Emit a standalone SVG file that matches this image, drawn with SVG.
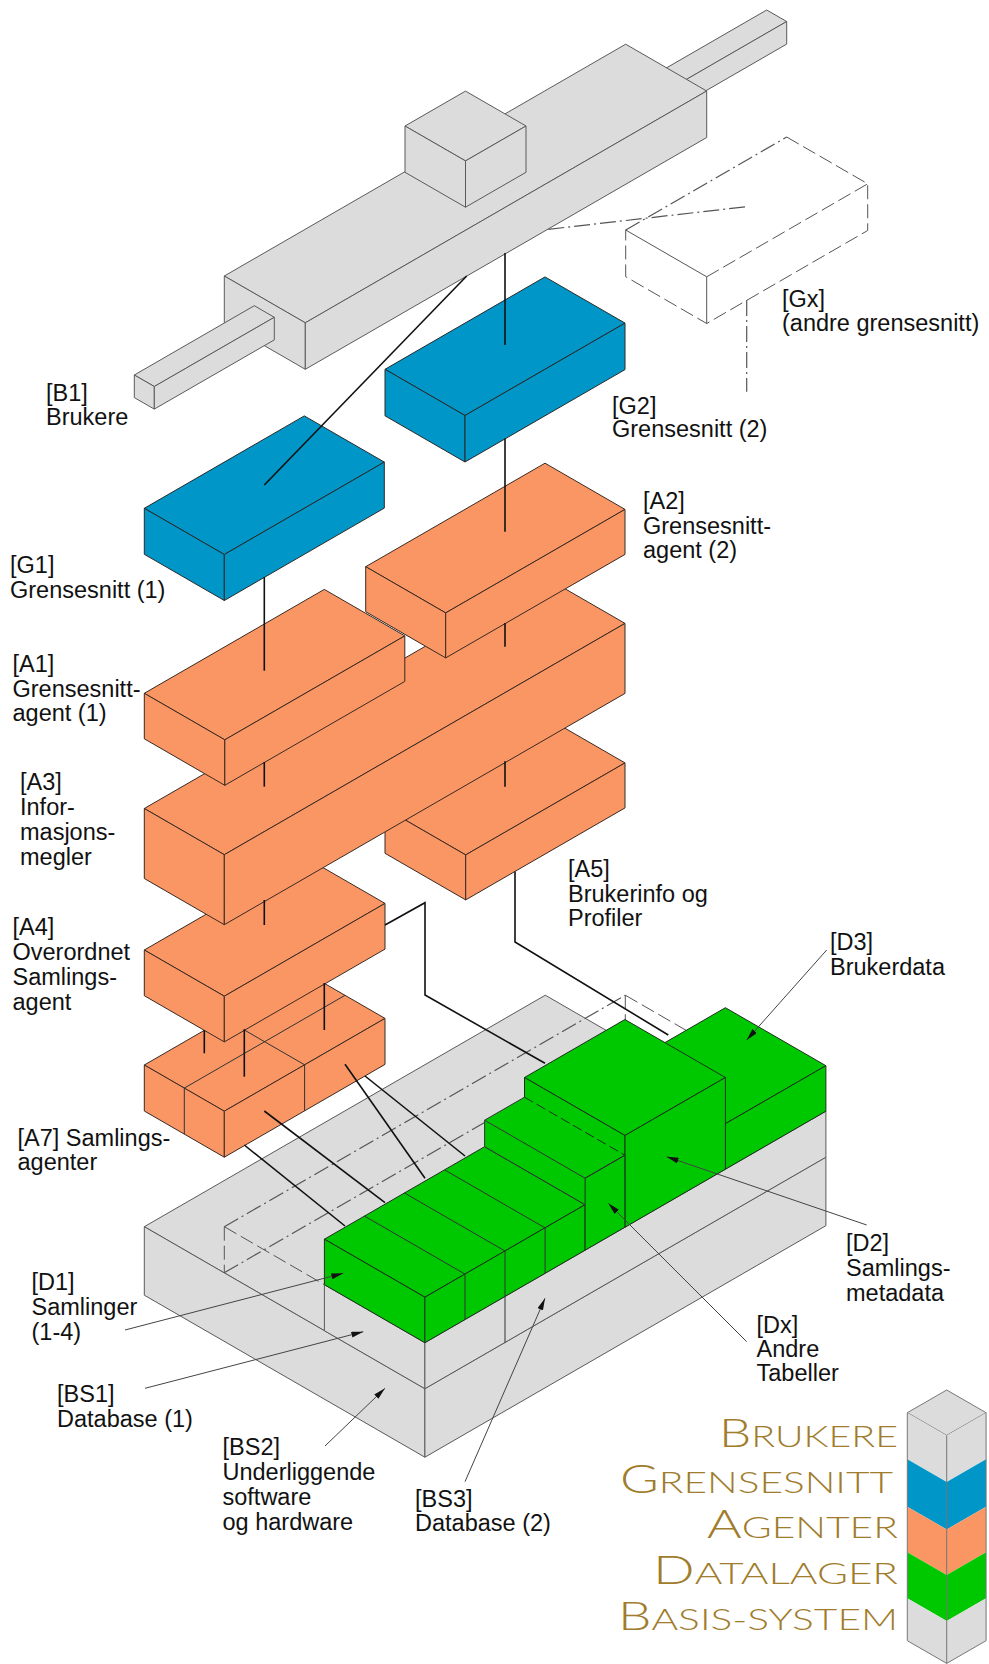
<svg xmlns="http://www.w3.org/2000/svg" width="989" height="1664" viewBox="0 0 989 1664">
<defs>
<style>
.gy{fill:#dcdcdc;stroke:#5a5a5a;stroke-width:1;stroke-linejoin:round}
.bl{fill:#0096c8;stroke:#2a2a2a;stroke-width:1;stroke-linejoin:round}
.or{fill:#fa9664;stroke:#3a2a22;stroke-width:1;stroke-linejoin:round}
.gr{fill:#00c800;stroke:#1f2f1f;stroke-width:1;stroke-linejoin:round}
.grf{fill:#00c800;stroke:none}
.ln{fill:none;stroke:#333;stroke-width:1}
.lnd{fill:none;stroke:#1f2f1f;stroke-width:1;stroke-dasharray:10 4}
.lnw{fill:none;stroke:#555;stroke-width:1}
.cn{fill:none;stroke:#111;stroke-width:1.6}
.ptr{fill:none;stroke:#444;stroke-width:1;marker-end:url(#ah)}
.dash{fill:none;stroke:#555;stroke-width:1;stroke-dasharray:14 5}
.dd{fill:none;stroke:#555;stroke-width:1.2;stroke-dasharray:16 4 2 4}
.lbl{font-family:"Liberation Sans",Arial,sans-serif;font-size:23.5px;fill:#111}
.lg{font-family:Lato,"Open Sans",sans-serif;font-weight:300;fill:#a07c2c}
.lgf{stroke:#777;stroke-width:1;stroke-linejoin:round}
</style>
<marker id="ah" viewBox="0 0 12 6" refX="12" refY="3" markerWidth="12" markerHeight="6" orient="auto" markerUnits="userSpaceOnUse">
<path d="M0,0 L12,3 L0,6 z" fill="#111"/>
</marker>
</defs>
<rect width="989" height="1664" fill="#fff"/>

<g id="B1">
<polygon class="gy" points="646.7,79.3 766.7,10 786.7,21.5 666.7,90.8"/>
<polygon class="gy" points="666.7,90.8 786.7,21.5 786.7,44.1 666.7,113.4"/>
<polygon class="gy" points="224.3,276 625.7,44.2 706.7,91 305.3,322.8"/>
<polygon class="gy" points="224.3,276 305.3,322.8 305.3,369.3 224.3,322.5"/>
<polygon class="gy" points="305.3,322.8 706.7,91 706.7,137.5 305.3,369.3"/>
<polygon class="gy" points="405,126 465.5,91.1 526,126 465.5,160.9"/>
<polygon class="gy" points="405,126 465.5,160.9 465.5,207.2 405,172.3"/>
<polygon class="gy" points="465.5,160.9 526,126 526,172.3 465.5,207.2"/>
<polygon class="gy" points="134.3,375 254.3,305.7 274.3,317.3 154.3,386.5"/>
<polygon class="gy" points="134.3,375 154.3,386.5 154.3,409.1 134.3,397.6"/>
<polygon class="gy" points="154.3,386.5 274.3,317.3 274.3,339.9 154.3,409.1"/>
</g>

<g id="Gx">
<path class="lnw" d="M625.7,230 L706.7,276.8 L706.7,323.5"/>
<path class="dd" d="M625.7,230 L786.7,137"/>
<path class="dash" d="M786.7,137 L867.7,183.8 L867.7,230.5 L706.7,323.5 L625.7,276.7 L625.7,230 M706.7,276.8 L867.7,183.8"/>
</g>

<g id="G2">
<polygon class="bl" points="385,369.3 545,276.9 625,323.1 465,415.5"/>
<polygon class="bl" points="385,369.3 465,415.5 465,462 385,415.8"/>
<polygon class="bl" points="465,415.5 625,323.1 625,369.6 465,462"/>
</g>
<g id="G1">
<polygon class="bl" points="144.3,508.3 304.3,415.9 384.3,462.1 224.3,554.5"/>
<polygon class="bl" points="144.3,508.3 224.3,554.5 224.3,600.5 144.3,554.3"/>
<polygon class="bl" points="224.3,554.5 384.3,462.1 384.3,508.1 224.3,600.5"/>
</g>

<g id="A7">
<polygon class="or" points="144.3,1065 305,972.2 385,1018.4 224.3,1111.2"/>
<polygon class="or" points="144.3,1065 224.3,1111.2 224.3,1157.2 144.3,1111"/>
<polygon class="or" points="224.3,1111.2 385,1018.4 385,1064.4 224.3,1157.2"/>
<path class="ln" d="M184.3,1134.1 L184.3,1088.1 L345,995.3 M224.6,1018.6 L304.6,1064.8 L304.6,1110.8"/>
</g>
<g id="A4">
<polygon class="or" points="144.3,950 305,857.2 385,903.4 224.3,996.2"/>
<polygon class="or" points="144.3,950 224.3,996.2 224.3,1041.9 144.3,995.7"/>
<polygon class="or" points="224.3,996.2 385,903.4 385,949.1 224.3,1041.9"/>
</g>
<g id="A5">
<polygon class="or" points="385,808.3 544.3,716.3 625,762.9 465.7,854.9"/>
<polygon class="or" points="385,808.3 465.7,854.9 465.7,899.9 385,853.3"/>
<polygon class="or" points="465.7,854.9 625,762.9 625,807.9 465.7,899.9"/>
</g>
<g id="A3">
<polygon class="or" points="144.3,808.5 545,577.2 625,623.4 224.3,854.7"/>
<polygon class="or" points="144.3,808.5 224.3,854.7 224.3,924.7 144.3,878.5"/>
<polygon class="or" points="224.3,854.7 625,623.4 625,693.4 224.3,924.7"/>
</g>
<g id="A1">
<polygon class="or" points="144.3,693.3 324.3,589.4 404.8,635.9 224.8,739.8"/>
<polygon class="or" points="144.3,693.3 224.8,739.8 224.8,785.3 144.3,738.8"/>
<polygon class="or" points="224.8,739.8 404.8,635.9 404.8,681.4 224.8,785.3"/>
</g>
<g id="A2">
<polygon class="or" points="365.7,566.7 545,463.2 625,509.4 445.7,612.9"/>
<polygon class="or" points="365.7,566.7 445.7,612.9 445.7,657.9 365.7,611.7"/>
<polygon class="or" points="445.7,612.9 625,509.4 625,554.4 445.7,657.9"/>
</g>

<g id="BS2">
<polygon class="gy" points="144.3,1226.7 545.3,995.2 825.9,1157.2 424.9,1388.7"/>
<polygon class="gy" points="144.3,1226.7 424.9,1388.7 424.9,1457.2 144.3,1295.2"/>
<polygon class="gy" points="424.9,1388.7 825.9,1157.2 825.9,1225.7 424.9,1457.2"/>
</g>
<g id="ghost">
<path class="dd" d="M224.3,1226.7 L625.3,995.2 M224.3,1272.7 L625.3,1041.2"/>
<path class="dash" d="M224.3,1226.7 L224.3,1272.7 M224.3,1226.7 L324.4,1284.7 M625.3,995.2 L625.3,1041.2 M625.3,995.2 L725.4,1053"/>
</g>
<g id="BS1">
<polygon class="gy" points="324.4,1284.7 424.9,1342.7 424.9,1388.7 324.4,1330.7"/>
</g>
<g id="BS3">
<polygon class="gy" points="424.9,1342.7 825.9,1111.2 825.9,1157.2 424.9,1388.7"/>
</g>
<g id="D1">
<polygon class="gr" points="324.4,1239.2 484.6,1146.7 585.1,1204.7 424.9,1297.2"/>
<polygon class="gr" points="324.4,1239.2 424.9,1297.2 424.9,1342.7 324.4,1284.7"/>
<polygon class="gr" points="424.9,1297.2 585.1,1204.7 585.1,1250.2 424.9,1342.7"/>
<path class="ln" d="M364.5,1216.1 L465,1274.1 L465,1319.6 M404.5,1193 L505,1251 L505,1342.5 M444.6,1169.9 L545.1,1227.9 L545.1,1273.4"/>
</g>
<g id="D3">
<polygon class="gr" points="624.9,1065.7 725.4,1007.7 825.9,1065.7 725.4,1123.7"/>
<polygon class="gr" points="725.4,1123.7 825.9,1065.7 825.9,1111.2 725.4,1169.2"/>
</g>
<g id="D2">
<polygon class="gr" points="524.5,1077.5 624.9,1019.5 725.4,1077.5 625,1135.5"/>
<polygon class="gr" points="524.5,1077.5 625,1135.5 625,1227.2 524.5,1169.2"/>
<polygon class="gr" points="625,1135.5 725.4,1077.5 725.4,1169.2 625,1227.2"/>
</g>
<g id="Dx">
<polygon class="grf" points="484.6,1120.2 524.5,1097.2 624.9,1155.2 585.1,1178.2"/>
<polygon class="grf" points="484.6,1120.2 585.1,1178.2 585.1,1204.7 484.6,1146.7"/>
<polygon class="gr" points="585.1,1178.2 624.9,1155.2 624.9,1227.2 585.1,1250.2"/>
<path class="ln" d="M484.6,1146.7 L484.6,1120.2 L524.5,1097.2 M484.6,1120.2 L585.1,1178.2 L624.9,1155.2 M484.6,1146.7 L585.1,1204.7"/>
<path class="lnd" d="M524.5,1097.2 L624.9,1155.2"/>
</g>

<g id="connectors">
<path class="cn" d="M466.7,276 L264.3,485"/>
<path class="cn" d="M505,253 L505,345"/>
<path class="dd" d="M548.3,229.3 L746.7,206.7"/>
<path class="dd" d="M746.7,300 L746.7,391.7"/>
<path class="cn" d="M264.3,577 L264.3,670.7"/>
<path class="cn" d="M505,438.6 L505,531.7"/>
<path class="cn" d="M264.3,762 L264.3,786.7"/>
<path class="cn" d="M505,623 L505,646.7"/>
<path class="cn" d="M505,761.3 L505,786.7"/>
<path class="cn" d="M264.3,900 L264.3,925"/>
<path class="cn" d="M204.3,1030.3 L204.3,1053.3"/>
<path class="cn" d="M244.3,1029.2 L244.3,1076.7"/>
<path class="cn" d="M324.3,983 L324.3,1030"/>
<path class="cn" d="M385,925 L425,902.7 L425,995 L545,1063.3"/>
<path class="cn" d="M515,871.5 L515,942 L668.3,1035"/>
<path class="cn" d="M244.3,1145 L345,1226"/>
<path class="cn" d="M264.3,1111 L385,1202.7"/>
<path class="cn" d="M345,1064.3 L425,1178.3"/>
<path class="cn" d="M365,1076 L465,1156"/>
</g>

<g id="pointers">
<path class="ptr" d="M826.7,950 L746.7,1040"/>
<path class="ptr" d="M866.7,1225 L666.7,1156.7"/>
<path class="ptr" d="M746.7,1341.7 L608.3,1203.3"/>
<path class="ptr" d="M125,1330 L343.3,1273.3"/>
<path class="ptr" d="M145,1388.3 L363.3,1331.7"/>
<path class="ptr" d="M325,1446 L385,1388.3"/>
<path class="ptr" d="M465,1481.7 L545,1298.3"/>
</g>

<g id="labels" class="lbl">
<text x="782" y="307">[Gx]</text><text x="782" y="331">(andre grensesnitt)</text>
<text x="46" y="401">[B1]</text><text x="46" y="425">Brukere</text>
<text x="612" y="414">[G2]</text><text x="612" y="437">Grensesnitt (2)</text>
<text x="643" y="509">[A2]</text><text x="643" y="533.5">Grensesnitt-</text><text x="643" y="558">agent (2)</text>
<text x="10" y="573">[G1]</text><text x="10" y="597.5">Grensesnitt (1)</text>
<text x="12.5" y="672">[A1]</text><text x="12.5" y="696.5">Grensesnitt-</text><text x="12.5" y="721">agent (1)</text>
<text x="20" y="790">[A3]</text><text x="20" y="815">Infor-</text><text x="20" y="840">masjons-</text><text x="20" y="865">megler</text>
<text x="568" y="877">[A5]</text><text x="568" y="901.5">Brukerinfo og</text><text x="568" y="926">Profiler</text>
<text x="12.5" y="935">[A4]</text><text x="12.5" y="960">Overordnet</text><text x="12.5" y="985">Samlings-</text><text x="12.5" y="1010">agent</text>
<text x="830" y="950">[D3]</text><text x="830" y="975">Brukerdata</text>
<text x="17.5" y="1146">[A7] Samlings-</text><text x="17.5" y="1170">agenter</text>
<text x="846" y="1251">[D2]</text><text x="846" y="1276">Samlings-</text><text x="846" y="1301">metadata</text>
<text x="31.5" y="1290">[D1]</text><text x="31.5" y="1315">Samlinger</text><text x="31.5" y="1340">(1-4)</text>
<text x="756.5" y="1333">[Dx]</text><text x="756.5" y="1357">Andre</text><text x="756.5" y="1381">Tabeller</text>
<text x="57" y="1402">[BS1]</text><text x="57" y="1426.5">Database (1)</text>
<text x="222.5" y="1455">[BS2]</text><text x="222.5" y="1480">Underliggende</text><text x="222.5" y="1505">software</text><text x="222.5" y="1530">og hardware</text>
<text x="415" y="1506.5">[BS3]</text><text x="415" y="1531">Database (2)</text>
</g>

<g id="legend">
<polygon class="lgf" fill="#dcdcdc" points="907.3,1412.7 946.7,1390 986.1,1412.7 946.7,1435.4"/>
<polygon fill="#dcdcdc" points="907.3,1412.7 946.7,1435.4 986.1,1412.7 986.1,1459.3 946.7,1482 907.3,1459.3"/>
<polygon fill="#0096c8" points="907.3,1459.3 946.7,1482 986.1,1459.3 986.1,1506.7 946.7,1529.4 907.3,1506.7"/>
<polygon fill="#fa9664" points="907.3,1506.7 946.7,1529.4 986.1,1506.7 986.1,1552.3 946.7,1575 907.3,1552.3"/>
<polygon fill="#00c800" points="907.3,1552.3 946.7,1575 986.1,1552.3 986.1,1598.3 946.7,1621 907.3,1598.3"/>
<polygon fill="#dcdcdc" points="907.3,1598.3 946.7,1621 986.1,1598.3 986.1,1640.7 946.7,1663.4 907.3,1640.7"/>
<path class="lgf" fill="none" d="M907.3,1412.7 L907.3,1640.7 L946.7,1663.4 L986.1,1640.7 L986.1,1412.7 M946.7,1435.4 L946.7,1663.4"/>
<text class="lg" x="898" y="1446.7" text-anchor="end" textLength="179" lengthAdjust="spacingAndGlyphs"><tspan font-size="39">B</tspan><tspan font-size="30">RUKERE</tspan></text>
<text class="lg" x="893" y="1492.7" text-anchor="end" textLength="273" lengthAdjust="spacingAndGlyphs"><tspan font-size="39">G</tspan><tspan font-size="30">RENSESNITT</tspan></text>
<text class="lg" x="898" y="1538.3" text-anchor="end" textLength="191" lengthAdjust="spacingAndGlyphs"><tspan font-size="39">A</tspan><tspan font-size="30">GENTER</tspan></text>
<text class="lg" x="898" y="1584" text-anchor="end" textLength="245" lengthAdjust="spacingAndGlyphs"><tspan font-size="39">D</tspan><tspan font-size="30">ATALAGER</tspan></text>
<text class="lg" x="898" y="1630" text-anchor="end" textLength="280" lengthAdjust="spacingAndGlyphs"><tspan font-size="39">B</tspan><tspan font-size="30">ASIS-SYSTEM</tspan></text>
</g>
</svg>
